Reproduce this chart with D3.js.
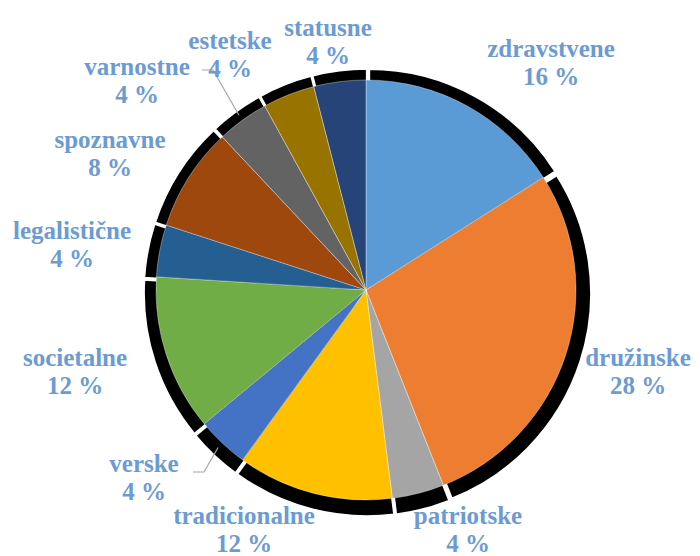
<!DOCTYPE html>
<html>
<head>
<meta charset="utf-8">
<script src="https://cdn.jsdelivr.net/npm/d3@7"></script>
<style>
  html, body { margin: 0; padding: 0; background: #fff; }
  svg { display: block; }
</style>
</head>
<body>
<svg id="chart" width="700" height="556"></svg>
<script>
// Categories in clockwise order starting at 12 o'clock
const categories = ["zdravstvene", "družinske", "patriotske", "tradicionalne", "verske",
  "societalne", "legalistične", "spoznavne", "estetske", "varnostne", "statusne"];
// Share of each category, in percent
const shares = [16, 28, 4, 12, 4, 12, 4, 8, 4, 4, 4];
// Slice fills
const colors = ["#5B9BD5", "#ED7D31", "#A5A5A5", "#FFC000", "#4472C4", "#70AD47",
  "#255E91", "#9E480E", "#636363", "#997300", "#264478"];

// Label placement relative to the pie centre (centre of the two-line block)
const labelOffset = {
  "zdravstvene": [185, -228], "družinske": [272, 81], "patriotske": [102, 239],
  "tradicionalne": [-122, 239], "verske": [-222, 187], "societalne": [-291, 81],
  "legalistične": [-294, -46], "spoznavne": [-256, -137], "estetske": [-136, -236],
  "varnostne": [-229, -210], "statusne": [-38, -249]
};
// Labels that sit away from their slice get a leader line (start point relative to centre)
const leaderFrom = { "estetske": [-164, -220], "verske": [-173, 182] };

// Pick the first installed serif face
function pickFont(list) {
  const ctx = document.createElement("canvas").getContext("2d");
  const probe = "tradicionalne legalistične 0123456789 %";
  const base = {};
  ["monospace", "sans-serif"].forEach(b => {
    ctx.font = `bold 40px ${b}`;
    base[b] = ctx.measureText(probe).width;
  });
  for (const f of list) {
    let ok = true;
    ["monospace", "sans-serif"].forEach(b => {
      ctx.font = `bold 40px "${f}", ${b}`;
      if (Math.abs(ctx.measureText(probe).width - base[b]) < 0.5) ok = false;
    });
    if (ok) return `"${f}"`;
  }
  return "serif";
}
const labelFont = pickFont(["Liberation Serif", "Times New Roman", "Tinos", "DejaVu Serif", "Noto Serif"]);

const data = categories.map((c, i) => ({ name: c, value: shares[i], color: colors[i] }));

const svg = d3.select("#chart");
const cx = 366, cy = 290, r = 210;
const g = svg.append("g").attr("transform", `translate(${cx},${cy})`);

const pie = d3.pie().sort(null).value(d => d.value);
const arcs = pie(data);

const arc = d3.arc().innerRadius(0).outerRadius(r);
const shadowArc = d3.arc().innerRadius(0).outerRadius(r + 11);

const mid = d => (d.startAngle + d.endAngle) / 2;

// Drop shadow for each slice, nudged outward and slightly down-right
g.append("g").selectAll("path")
  .data(arcs)
  .join("path")
  .attr("d", shadowArc)
  .attr("transform", d => `translate(${Math.sin(mid(d)) * 3 + 1.5},${-Math.cos(mid(d)) * 3 + 2.5})`)
  .attr("fill", "#000")
  .attr("stroke", "#fff")
  .attr("stroke-width", 2.5);

// Slices
g.append("g").selectAll("path")
  .data(arcs)
  .join("path")
  .attr("d", arc)
  .attr("fill", d => d.data.color)
  .attr("stroke", "rgba(255,255,255,0.35)")
  .attr("stroke-width", 1);

// Leader lines
g.append("g").selectAll("polyline")
  .data(arcs.filter(d => leaderFrom[d.data.name]))
  .join("polyline")
  .attr("points", d => {
    const [sx, sy] = leaderFrom[d.data.name];
    const a = mid(d);
    const ex = Math.sin(a) * (r + 6), ey = -Math.cos(a) * (r + 6);
    return [[sx, sy], [sx + 11, sy], [ex, ey]].map(p => p.join(",")).join(" ");
  })
  .attr("fill", "none")
  .attr("stroke", "#a6a6a6")
  .attr("stroke-width", 1.2);

// Data labels
const labels = g.append("g")
  .style("font-family", labelFont)
  .style("font-weight", "bold")
  .style("font-size", "25px")
  .attr("fill", "#6c9bd3")
  .attr("text-anchor", "middle");

labels.selectAll("text")
  .data(arcs)
  .join("text")
  .attr("transform", d => {
    const [x, y] = labelOffset[d.data.name];
    return `translate(${x},${y})`;
  })
  .each(function (d) {
    const t = d3.select(this);
    t.append("tspan").attr("x", 0).attr("y", -5).text(d.data.name);
    t.append("tspan").attr("x", 0).attr("y", 23).text(`${d.data.value} %`);
  });
</script>
</body>
</html>
